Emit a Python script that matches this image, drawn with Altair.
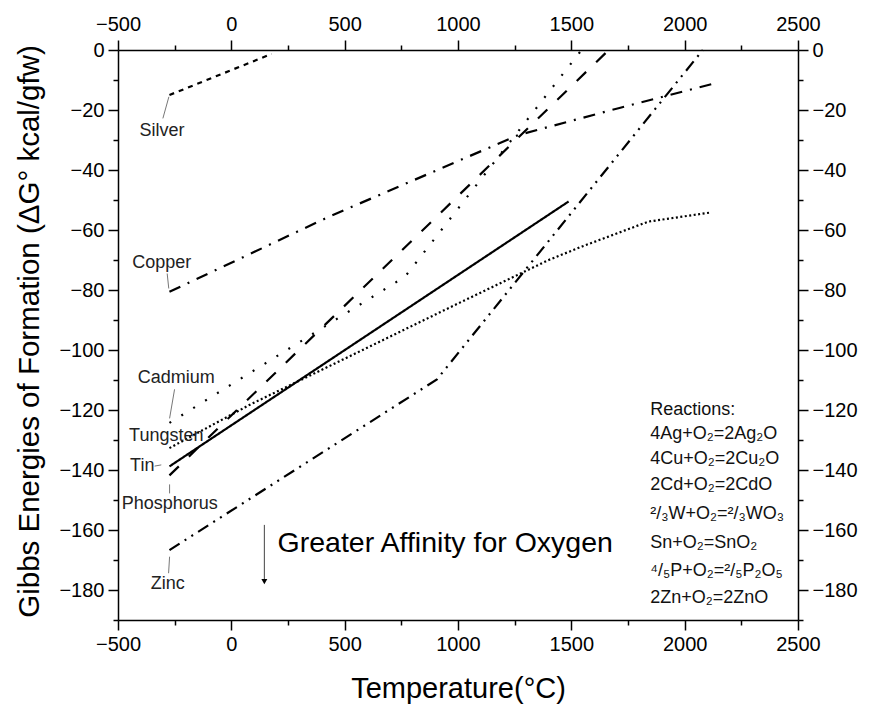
import altair as alt
import pandas as pd

FONT = "Liberation Sans, Arial, sans-serif"

# ---- data ----
series_names = ["Silver", "Copper", "Cadmium", "Tungsten", "Tin", "Phosphorus", "Zinc"]

silver_x = [-273, 178]
silver_y = [-15.0, -1.3]

copper_x = [-273, 433, 1268, 1708, 2133]
copper_y = [-80.6, -55.5, -28.3, -19.4, -11.1]

cadmium_x = [-273, 767, 1545]
cadmium_y = [-124.3, -75.5, 0.0]

tungsten_x = [-273, 80, 579, 1000, 1400, 1547, 1840, 2111]
tungsten_y = [-132.7, -118.3, -100.0, -84.5, -70.0, -65.5, -57.2, -54.2]

tin_x = [-273, 1488]
tin_y = [-138.8, -50.5]

phosphorus_x = [-273, 1665]
phosphorus_y = [-141.8, 0.0]

zinc_x = [-273, 907, 2080]
zinc_y = [-166.7, -109.8, 0.0]

x_ticks = list(range(-500, 2501, 250))
y_ticks = list(range(-190, 1, 10))

reaction_lines = [
    "Reactions:",
    "4Ag+O₂=2Ag₂O",
    "4Cu+O₂=2Cu₂O",
    "2Cd+O₂=2CdO",
    "²/₃W+O₂=²/₃WO₃",
    "Sn+O₂=SnO₂",
    "⁴/₅P+O₂=²/₅P₂O₅",
    "2Zn+O₂=2ZnO",
]
reaction_y = [-120.0, -128.0, -136.3, -145.0, -154.5, -164.3, -173.7, -182.7]

# label annotations (data coordinates)
label_text = ["Silver", "Copper", "Cadmium", "Tungsten", "Tin", "Phosphorus", "Zinc"]
label_x = [-306, -307, -243, -287, -393, -272, -280]
label_y = [-26.9, -71.0, -109.4, -128.7, -138.7, -151.3, -178.0]

leader_x = [-275.5, -283, -250.4, -338.5, -272.4, -272.4]
leader_y = [-15.6, -74.5, -113.1, -138.7, -144.8, -168.9]
leader_x2 = [-302, -276, -272.4, -309, -272.4, -276.8]
leader_y2 = [-22.8, -79.5, -122.8, -138.3, -147.8, -174.4]

dash_patterns = [[5, 5], [12, 8, 2, 8], [2, 12], [2, 2.5], [1, 0], [13, 14], [12, 6, 2, 6, 2, 6]]

# ---- build tables ----
all_x = [silver_x, copper_x, cadmium_x, tungsten_x, tin_x, phosphorus_x, zinc_x]
all_y = [silver_y, copper_y, cadmium_y, tungsten_y, tin_y, phosphorus_y, zinc_y]
rows = []
for name, xs, ys in zip(series_names, all_x, all_y):
    for i, (xv, yv) in enumerate(zip(xs, ys)):
        rows.append({"series": name, "x": xv, "y": yv, "i": i})
df = pd.DataFrame(rows)

labels_df = pd.DataFrame({"text": label_text, "x": label_x, "y": label_y})
leaders_df = pd.DataFrame({"x": leader_x, "y": leader_y, "x2": leader_x2, "y2": leader_y2})
react_df = pd.DataFrame({
    "text": reaction_lines,
    "x": [1848] * len(reaction_lines),
    "y": reaction_y,
})
arrow_df = pd.DataFrame({"x": [145.7], "y": [-158.3], "y2": [-177.0], "ytip": [-177.2]})
note_df = pd.DataFrame({"text": ["Greater Affinity for Oxygen"], "x": [204], "y": [-164.3]})

x_scale = alt.Scale(domain=[-500, 2500], nice=False, zero=False)
y_scale = alt.Scale(domain=[-190, 0], nice=False, zero=False)

common = dict(
    domainColor="black", domainWidth=1.5, tickColor="black", tickWidth=1.5,
    labelFont=FONT, labelFontSize=20, labelColor="black", labelPadding=4,
    labelOverlap=False, labelFlush=False, grid=False, format="d",
)
x_lab = "datum.value % 500 == 0 ? datum.label : ''"
y_lab = "datum.value % 20 == 0 ? datum.label : ''"
x_ts = {"condition": {"test": "datum.value % 500 == 0", "value": 10}, "value": 5}
y_ts = {"condition": {"test": "datum.value % 20 == 0", "value": 10}, "value": 5}

x_bottom = alt.Axis(orient="bottom", values=x_ticks, labelExpr=x_lab, tickSize=x_ts,
                    title="Temperature(°C)", titleFont=FONT, titleFontSize=29,
                    titleFontWeight="normal", titleColor="black", titleY=68,
                    titleBaseline="middle", **common)
y_left = alt.Axis(orient="left", values=y_ticks, labelExpr=y_lab, tickSize=y_ts,
                  title="Gibbs Energies of Formation (ΔG° kcal/gfw)", titleFont=FONT,
                  titleFontSize=29.5, titleFontWeight="normal", titleColor="black",
                  titleX=-89, titleY=281, titleBaseline="middle", **common)
x_top = alt.Axis(orient="top", values=x_ticks, labelExpr=x_lab, tickSize=x_ts, title=None,
                 **{**common, "labelPadding": 6})
y_right = alt.Axis(orient="right", values=y_ticks, labelExpr=y_lab, tickSize=y_ts, title=None, **common)

lines = alt.Chart(df).mark_line(color="black", strokeWidth=2.2).encode(
    x=alt.X("x:Q", scale=x_scale, axis=x_bottom),
    y=alt.Y("y:Q", scale=y_scale, axis=y_left),
    strokeDash=alt.StrokeDash("series:N", scale=alt.Scale(domain=series_names, range=dash_patterns), legend=None),
    detail="series:N",
    order="i:Q",
)

axes2 = alt.Chart(df).mark_point(opacity=0).encode(
    x=alt.X("x:Q", scale=x_scale, axis=x_top),
    y=alt.Y("y:Q", scale=y_scale, axis=y_right),
)

leaders = alt.Chart(leaders_df).mark_rule(color="#777777", strokeWidth=1).encode(
    x=alt.X("x:Q", scale=x_scale, axis=None), y=alt.Y("y:Q", scale=y_scale, axis=None),
    x2="x2:Q", y2="y2:Q",
)

labels = alt.Chart(labels_df).mark_text(font=FONT, fontSize=18, color="#222222", align="center", baseline="middle").encode(
    x=alt.X("x:Q", scale=x_scale, axis=None), y=alt.Y("y:Q", scale=y_scale, axis=None), text="text:N",
)

reactions = alt.Chart(react_df).mark_text(font=FONT, fontSize=18, color="#111111", align="left", baseline="middle").encode(
    x=alt.X("x:Q", scale=x_scale, axis=None), y=alt.Y("y:Q", scale=y_scale, axis=None), text="text:N",
)

arrow_line = alt.Chart(arrow_df).mark_rule(color="#444444", strokeWidth=1).encode(
    x=alt.X("x:Q", scale=x_scale, axis=None), y=alt.Y("y:Q", scale=y_scale, axis=None), y2="y2:Q",
)
arrow_head = alt.Chart(arrow_df).mark_point(shape="triangle-down", filled=True, size=35, color="black", opacity=1).encode(
    x=alt.X("x:Q", scale=x_scale, axis=None), y=alt.Y("ytip:Q", scale=y_scale, axis=None),
)
note = alt.Chart(note_df).mark_text(font=FONT, fontSize=28.5, color="black", align="left", baseline="middle").encode(
    x=alt.X("x:Q", scale=x_scale, axis=None), y=alt.Y("y:Q", scale=y_scale, axis=None), text="text:N",
)

chart = alt.layer(lines, axes2, leaders, labels, reactions, arrow_line, arrow_head, note).resolve_axis(
    x="independent", y="independent"
).properties(
    width=680, height=570,
    autosize=alt.AutoSizeParams(type="none"),
    padding={"left": 110, "top": 42, "right": 60, "bottom": 88},
).configure_view(stroke=None)

chart.save("out.html", embed_options={"renderer": "svg", "actions": False})
